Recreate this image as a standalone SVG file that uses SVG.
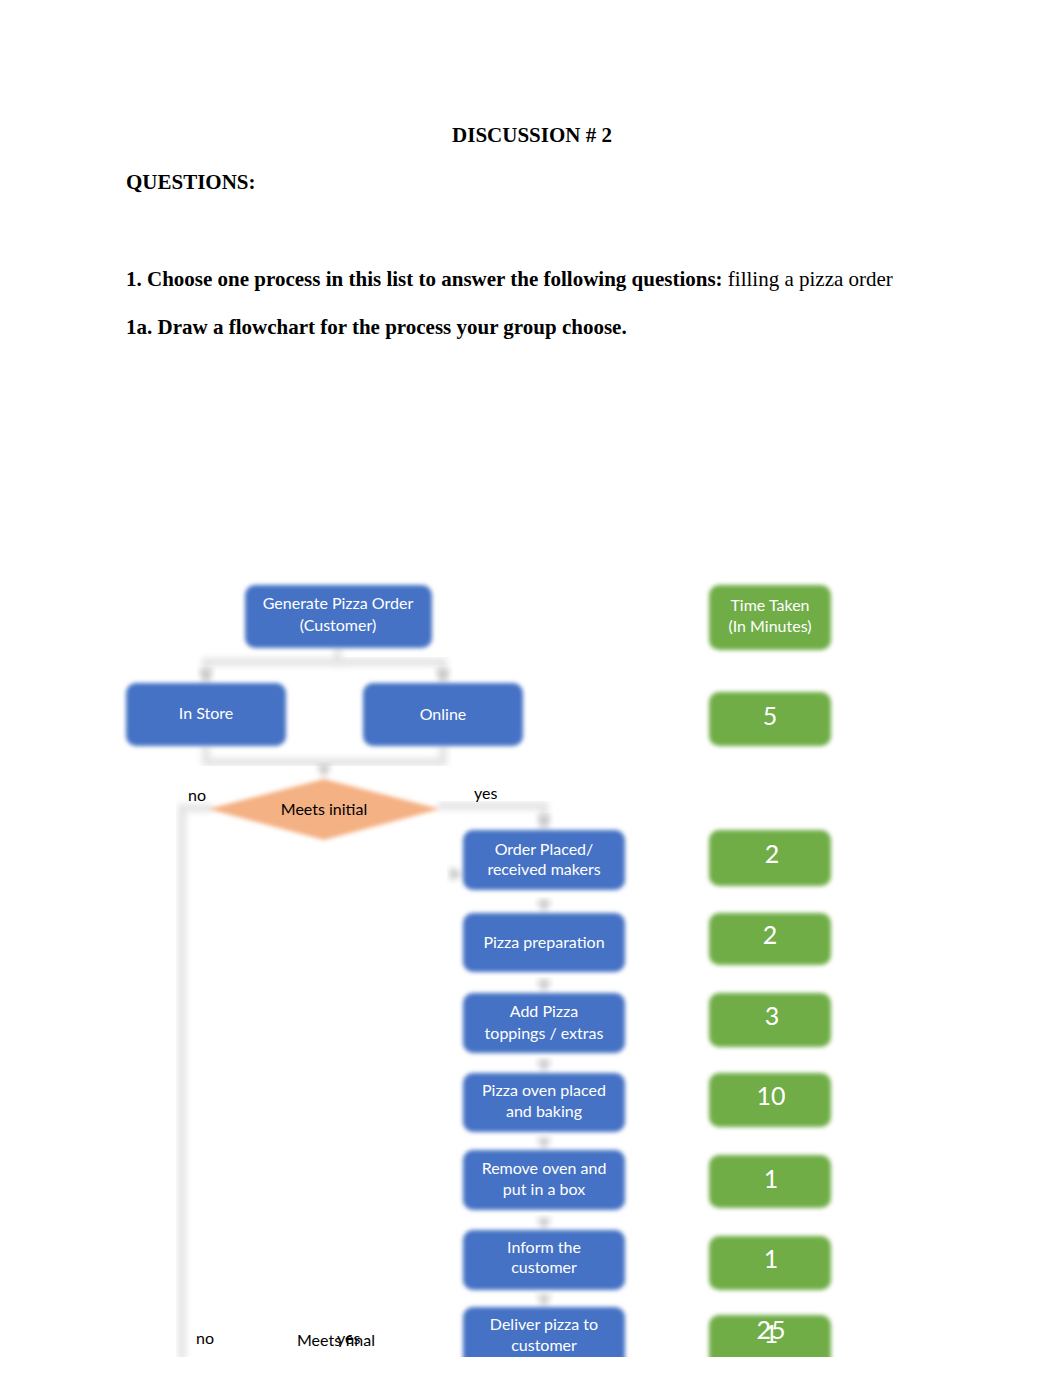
<svg xmlns="http://www.w3.org/2000/svg" width="1062" height="1377" viewBox="0 0 1062 1377">
<defs>
<filter id="soft" x="-10%" y="-20%" width="120%" height="140%"><feGaussianBlur stdDeviation="2"/></filter>
<filter id="lineblur" x="-20%" y="-20%" width="140%" height="140%"><feGaussianBlur stdDeviation="3"/></filter>
<clipPath id="page"><rect x="0" y="0" width="1062" height="1357"/></clipPath>
</defs>
<style>
.h{font-family:"Liberation Serif",serif;font-size:21px;font-weight:bold;fill:#000}
.p{font-family:"Liberation Serif",serif;font-size:21px;fill:#000}
.blue{fill:#4472C4;filter:url(#soft)}
.green{fill:#70AD47;filter:url(#soft)}
.bt{font-family:Lato,"Liberation Sans",sans-serif;font-size:16px;fill:#fff;text-anchor:middle}
.gn{font-family:Lato,"Liberation Sans",sans-serif;font-size:25px;fill:#fff;text-anchor:middle}
.lbl{font-family:Lato,"Liberation Sans",sans-serif;font-size:16px;fill:#000}
.conn{fill:none;stroke:#e4e4e4;stroke-width:8;filter:url(#lineblur)}
.ah{fill:#c4c4c4;filter:url(#lineblur)}
</style>
<rect width="1062" height="1377" fill="#fff"/>
<text class="h" x="532" y="142" text-anchor="middle">DISCUSSION # 2</text>
<text class="h" x="126" y="189">QUESTIONS:</text>
<text x="126" y="286"><tspan class="h">1. Choose one process in this list to answer the following questions:</tspan><tspan class="p">  filling a pizza order</tspan></text>
<text class="h" x="126" y="334">1a. Draw a flowchart for the process your group choose.</text>
<g clip-path="url(#page)">
<line x1="122" y1="565" x2="200" y2="565" stroke="#ececec" stroke-width="3" filter="url(#lineblur)"/>
<g id="connectors">
<path class="conn" d="M338,648 V662 H206 V683"/>
<path class="conn" d="M338,662 H443 V683"/>
<path class="conn" d="M206,746 V762 H443 V746"/>
<path class="conn" d="M324,762 V780"/>
<path class="conn" d="M438,806 H544 V830"/>
<path class="conn" d="M212,808 H182 V1360"/>
<path class="conn" d="M182,874 H463"/>
<path class="conn" d="M544,890 V913"/>
<path class="conn" d="M544,972 V993"/>
<path class="conn" d="M544,1053 V1073"/>
<path class="conn" d="M544,1132 V1150"/>
<path class="conn" d="M544,1210 V1230"/>
<path class="conn" d="M544,1290 V1307"/>
<path class="ah" d="M199,670 L213,670 L206,683 z"/>
<path class="ah" d="M436,670 L450,670 L443,683 z"/>
<path class="ah" d="M317,765 L331,765 L324,778 z"/>
<path class="ah" d="M537,816 L551,816 L544,829 z"/>
<path class="ah" d="M450,867 L450,881 L463,874 z"/>
<path class="ah" d="M537,900 L551,900 L544,913 z"/>
<path class="ah" d="M537,980 L551,980 L544,993 z"/>
<path class="ah" d="M537,1060 L551,1060 L544,1073 z"/>
<path class="ah" d="M537,1138 L551,1138 L544,1150 z"/>
<path class="ah" d="M537,1218 L551,1218 L544,1230 z"/>
<path class="ah" d="M537,1295 L551,1295 L544,1307 z"/>
</g>
<g id="n-generate"><rect class="blue" x="245" y="585" width="187" height="63" rx="10"/><text class="bt" x="338" y="609">Generate Pizza Order</text><text class="bt" x="338" y="631">(Customer)</text></g>
<g id="n-instore"><rect class="blue" x="126" y="683" width="160" height="63" rx="10"/><text class="bt" x="206" y="719">In Store</text></g>
<g id="n-online"><rect class="blue" x="363" y="683" width="160" height="63" rx="10"/><text class="bt" x="443" y="720">Online</text></g>
<g id="n-meets-initial"><polygon points="208,809 324,779 440,809 324,840" fill="#F4B183" filter="url(#soft)"/><text class="lbl" x="324" y="815" text-anchor="middle">Meets initial</text></g>
<text class="lbl" x="188" y="801">no</text>
<text class="lbl" x="474" y="799">yes</text>
<g id="n-order"><rect class="blue" x="463" y="830" width="162" height="60" rx="10"/><text class="bt" x="544" y="855">Order Placed/</text><text class="bt" x="544" y="875">received makers</text></g>
<g id="n-prep"><rect class="blue" x="463" y="913" width="162" height="59" rx="10"/><text class="bt" x="544" y="948">Pizza preparation</text></g>
<g id="n-toppings"><rect class="blue" x="463" y="993" width="162" height="60" rx="10"/><text class="bt" x="544" y="1017">Add Pizza</text><text class="bt" x="544" y="1039">toppings / extras</text></g>
<g id="n-oven"><rect class="blue" x="463" y="1073" width="162" height="59" rx="10"/><text class="bt" x="544" y="1096">Pizza oven placed</text><text class="bt" x="544" y="1117">and baking</text></g>
<g id="n-remove"><rect class="blue" x="463" y="1150" width="162" height="60" rx="10"/><text class="bt" x="544" y="1174">Remove oven and</text><text class="bt" x="544" y="1195">put in a box</text></g>
<g id="n-inform"><rect class="blue" x="463" y="1230" width="162" height="60" rx="10"/><text class="bt" x="544" y="1253">Inform the</text><text class="bt" x="544" y="1273">customer</text></g>
<g id="n-deliver"><rect class="blue" x="463" y="1307" width="162" height="70" rx="10"/><text class="bt" x="544" y="1330">Deliver pizza to</text><text class="bt" x="544" y="1351">customer</text></g>
<g id="n-time"><rect class="green" x="709" y="585" width="122" height="65" rx="10"/><text class="bt" x="770" y="611">Time Taken</text><text class="bt" x="770" y="632">(In Minutes)</text></g>
<g id="t-5"><rect class="green" x="709" y="692" width="122" height="54" rx="10"/><text class="gn" x="770" y="725">5</text></g>
<g id="t-2a"><rect class="green" x="709" y="830" width="122" height="56" rx="10"/><text class="gn" x="772" y="863">2</text></g>
<g id="t-2b"><rect class="green" x="709" y="913" width="122" height="52" rx="10"/><text class="gn" x="770" y="944">2</text></g>
<g id="t-3"><rect class="green" x="709" y="993" width="122" height="54" rx="10"/><text class="gn" x="772" y="1025">3</text></g>
<g id="t-10"><rect class="green" x="709" y="1073" width="122" height="54" rx="10"/><text class="gn" x="771" y="1105">10</text></g>
<g id="t-1a"><rect class="green" x="709" y="1155" width="122" height="53" rx="10"/><text class="gn" x="771" y="1188">1</text></g>
<g id="t-1b"><rect class="green" x="709" y="1236" width="122" height="54" rx="10"/><text class="gn" x="771" y="1268">1</text></g>
<g id="t-25"><rect class="green" x="709" y="1315" width="122" height="62" rx="10"/><text class="gn" x="771" y="1339">25</text><text class="gn" x="771" y="1343">1</text></g>
<text class="lbl" x="196" y="1344">no</text>
<text class="lbl" x="297" y="1346">Meets final</text>
<text class="lbl" x="337" y="1344">yes</text>
</g>
</svg>
